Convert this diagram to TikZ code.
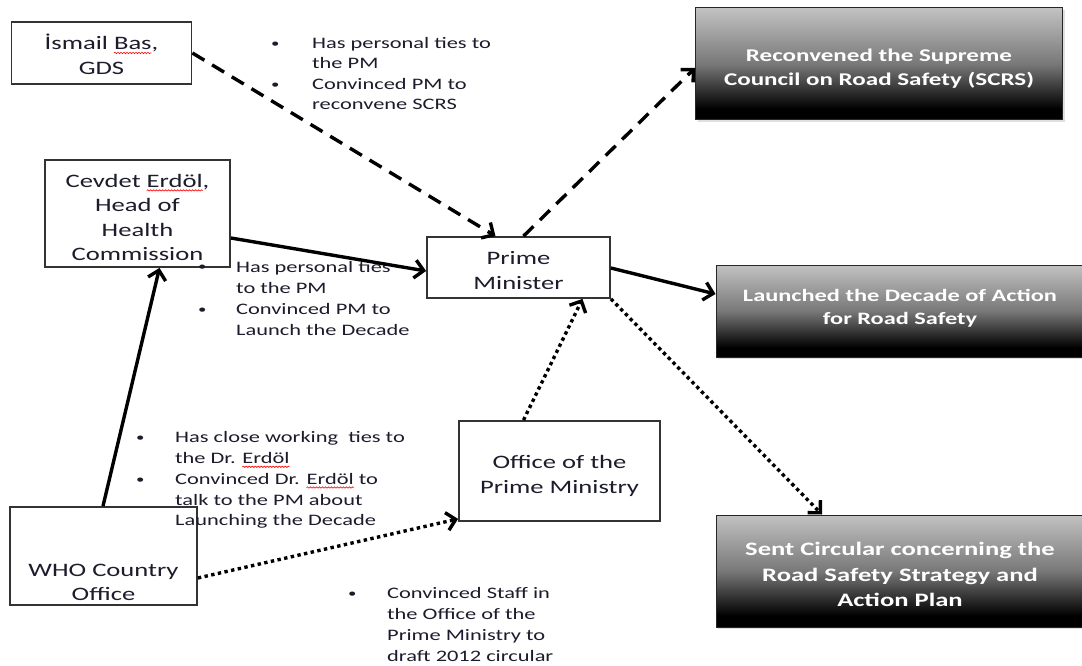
\documentclass[tikz,border=0pt]{standalone}
\usepackage{fontspec}
\setmainfont{Carlito}[FakeStretch=1.4]
\usetikzlibrary{arrows.meta,shadows,decorations.pathmorphing}

\definecolor{inkc}{HTML}{1C1C2C}
\definecolor{edgec}{HTML}{333333}
\definecolor{shtop}{HTML}{C2C2C2}
\definecolor{shmid}{HTML}{787878}
% top-light, bottom-black fill of the outcome boxes
\pgfdeclareverticalshading{outcomeshade}{100bp}{color(0bp)=(black); color(30bp)=(black); color(50bp)=(shmid); color(75bp)=(shtop); color(100bp)=(shtop)}

% red wavy spell-check underline
\newsavebox\spellbox
\newcommand\spellwave[1]{\sbox\spellbox{#1}\pgfmathsetmacro\spellwd{\wd\spellbox}%
  \makebox[0pt][l]{\tikz[overlay,x=1pt,y=1pt]\draw[red,line width=0.6pt,decorate,
    decoration={snake,amplitude=0.7pt,segment length=3pt}] (0,-3.2) -- (\spellwd,-3.2);}%
  \usebox\spellbox}
% small list bullet
\newcommand\dotmark{\raisebox{1.2pt}{\fontsize{12}{12}\selectfont\textbullet}}
% invisible struts that set the top/bottom of a text block
\newcommand\tstrut[1]{\rule{0pt}{#1pt}}
\newcommand\bstrut[1]{\rule[-#1pt]{0pt}{#1pt}}

\begin{document}
\begin{tikzpicture}[x=1pt,y=-1pt,
  actor/.style={draw=edgec, line width=1.8pt, fill=white, text=inkc, align=center,
    inner sep=0pt, font=\fontsize{19}{24.5}\selectfont},
  boxtext/.style={text=inkc, align=center, inner sep=0pt, font=\fontsize{19}{24}\selectfont},
  outcome/.style={draw=black!85, line width=1pt, shading=outcomeshade, text=white,
    align=center, inner sep=0pt,
    drop shadow={shadow xshift=2pt, shadow yshift=-2pt, opacity=0.25}},
  note/.style={anchor=north west, inner sep=0pt, text=inkc, font=\fontsize{16}{20.8}\selectfont},
  link/.style={line width=3.4pt, -{Straight Barb[length=9pt,width=18pt]}},
  solidlink/.style={link},
  dashlink/.style={link, dash pattern=on 14pt off 9pt},
  dotlink/.style={link, dash pattern=on 3.4pt off 3.4pt}]

\useasboundingbox[fill=white] (0,0) rectangle (1082,666);

% actors
\node[actor, minimum width=180pt, minimum height=62pt] (ismail) at (101.5,53)
  {\tstrut{24}İsmail \spellwave{Bas},\\GDS\bstrut{6}};
\node[actor, minimum width=185pt, minimum height=107pt] (cevdet) at (137.5,213.5)
  {\tstrut{23}Cevdet \spellwave{Erdöl},\\Head of\\Health\\Commission\bstrut{2}};
\node[actor, minimum width=183pt, minimum height=61pt] (pm) at (518.5,267.5)
  {\tstrut{25}Prime\\Minister\bstrut{6}};
\node[actor, minimum width=201pt, minimum height=100pt] (office) at (559.5,471)
  {\tstrut{26}Office of the\\Prime Ministry\bstrut{6}};
\node[actor, minimum width=187pt, minimum height=98pt] (who) at (103.5,556) {};
\node[boxtext] (whotext) at ([yshift=-26pt]who.center) {WHO Country\\Office};

% outcomes
\node[outcome, minimum width=367pt, minimum height=112pt,
  font=\bfseries\fontsize{17.9}{24.5}\selectfont] (scrs) at (879,64)
  {\tstrut{25.4}Reconvened the Supreme\\Council on Road Safety (SCRS)\bstrut{6}};
\node[outcome, minimum width=368pt, minimum height=92pt,
  font=\bfseries\fontsize{17.4}{23}\selectfont] (decade) at (900,311)
  {\tstrut{15.2}Launched the Decade of Action\\for Road Safety\bstrut{12}};
\node[outcome, minimum width=368pt, minimum height=112pt,
  font=\bfseries\fontsize{19}{25.5}\selectfont] (circular) at (900,571)
  {\tstrut{26}Sent Circular concerning the\\Road Safety Strategy and\\Action Plan\bstrut{6}};

% notes on the links
\node[note, font=\fontsize{16}{20.4}\selectfont] (n1) at (271,34) {\begin{tabular}{@{}p{41pt}@{}l@{}}
  \dotmark & Has personal ties to\\ & the PM\\
  \dotmark & Convinced PM to\\ & reconvene SCRS\end{tabular}};
\node[note, font=\fontsize{16}{21.2}\selectfont] (n2) at (198,257) {\begin{tabular}{@{}p{38pt}@{}l@{}}
  \dotmark & Has personal ties\\ & to the PM\\
  \dotmark & Convinced PM to\\ & Launch the Decade\end{tabular}};
\node[note] (n3) at (136,428) {\begin{tabular}{@{}p{39pt}@{}l@{}}
  \dotmark & Has close working~ ties to\\ & the Dr. \spellwave{Erdöl}\\
  \dotmark & Convinced Dr. \spellwave{Erdöl} to\\ & talk to the PM about\\
  & Launching the Decade\end{tabular}};
\node[note, font=\fontsize{16}{21}\selectfont] (n4) at (348,584) {\begin{tabular}{@{}p{39pt}@{}l@{}}
  \dotmark & Convinced Staff in\\ & the Office of the\\
  & Prime Ministry to\\ & draft 2012 circular\end{tabular}};

% influence links
\draw[dashlink] (ismail.east) -- ([xshift=-23pt]pm.north);
\draw[dashlink] ([xshift=5pt]pm.north) -- ([yshift=-4pt]scrs.west);
\draw[solidlink] ([yshift=-24.5pt]cevdet.east) -- ([yshift=-3.5pt]pm.west);
\draw[solidlink] ([yshift=-0.5pt]pm.east) -- ([yshift=17pt]decade.west);
\draw[solidlink] ([xshift=-0.5pt]who.north) -- ([xshift=22pt]cevdet.south);
\draw[dotlink] ([yshift=-22pt]who.east) -- ([yshift=3pt]office.south west);
\draw[dotlink] ([xshift=-36pt]office.north) -- ([xshift=64pt]pm.south);
\draw[dotlink] (pm.south east) -- ([xshift=-78pt]circular.north);
\end{tikzpicture}
\end{document}
